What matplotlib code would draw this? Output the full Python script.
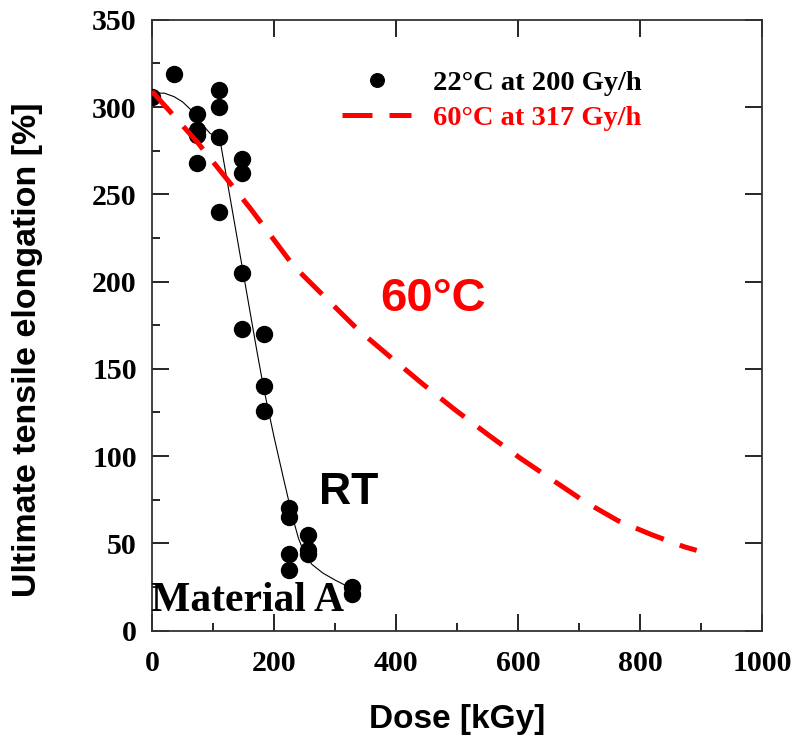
import matplotlib
matplotlib.use("Agg")
import matplotlib.pyplot as plt
from matplotlib.ticker import MultipleLocator

serif = ["Liberation Serif", "DejaVu Serif"]
sans = ["Liberation Sans", "DejaVu Sans"]

red = "#ff0000"

# 22 C at 200 Gy/h measured points
rt_dose = [0, 36, 74, 74, 74, 74, 110, 110, 110, 110, 147, 147, 147, 147,
           183, 183, 183, 225, 225, 225, 225, 255, 255, 255, 328, 328]
rt_elong = [306, 319, 296, 287, 284, 268, 310, 300, 283, 240, 270, 262, 205, 173,
            170, 140, 126, 70, 65, 44, 35, 55, 46, 44, 25, 21]

# thin fitted curve through RT data
fit_dose = [0, 20, 36, 50, 62, 74, 85, 95, 105, 112, 118, 130, 146, 160,
            172, 183, 200, 215, 225, 232, 240, 250, 262, 280, 300, 328]
fit_elong = [308, 308, 306, 303, 299, 294, 289, 285, 283, 280, 268, 244, 212, 184,
             160, 139, 111, 88, 73, 63, 53, 44, 38, 33, 29, 24]

# 60 C at 317 Gy/h curve
hot_dose = [0, 74, 161, 232, 281, 336, 390, 445, 497, 552, 603, 658, 709, 764, 819, 873, 893]
hot_elong = [309, 280, 242, 209, 192, 173, 157, 141, 126.5, 112, 99, 86, 74, 63, 55, 48, 46]

fig = plt.figure(figsize=(7.92, 7.35), dpi=100)
ax = fig.add_axes([0.192, 0.142, 0.770, 0.831])

ax.plot(fit_dose, fit_elong, color="black", lw=0.8, zorder=2)
ax.plot(rt_dose, rt_elong, "o", color="black", ms=11.5, zorder=3,
        label="22°C at 200 Gy/h")
ax.plot(hot_dose, hot_elong, color=red, lw=3.6, dashes=(6, 3.4), zorder=4,
        label="60°C at 317 Gy/h")

ax.set_xlim(0, 1000)
ax.set_ylim(0, 350)
ax.xaxis.set_major_locator(MultipleLocator(200))
ax.xaxis.set_minor_locator(MultipleLocator(100))
ax.yaxis.set_major_locator(MultipleLocator(50))
ax.yaxis.set_minor_locator(MultipleLocator(25))
ax.tick_params(which="major", direction="in", length=12, width=1.2,
               top=True, right=True)
ax.tick_params(which="minor", direction="in", length=6, width=1.2,
               top=False, right=False)
ax.tick_params(axis="x", which="major", pad=14)
ax.tick_params(axis="y", which="major", pad=11)
for s in ax.spines.values():
    s.set_linewidth(1.3)
    s.set_color("#333333")
for lab in ax.get_xticklabels() + ax.get_yticklabels():
    lab.set_family(serif)
    lab.set_fontweight("bold")
    lab.set_fontsize(21.5)

ax.set_xlabel("Dose [kGy]", family=sans, fontweight="bold", fontsize=24)
ax.xaxis.set_label_coords(0.5, -0.12)
ax.set_ylabel("Ultimate tensile elongation [%]", family=sans, fontweight="bold",
              fontsize=24.5)
ax.yaxis.set_label_coords(-0.179, 0.46)

leg = ax.legend(loc="upper left", bbox_to_anchor=(0.27, 0.959), frameon=False,
                prop={"family": serif, "weight": "bold", "size": 20.5},
                handlelength=2.4, handletextpad=0.77, labelspacing=0.3,
                markerscale=0.85)
leg.get_texts()[1].set_color(red)

ax.text(461, 190, "60°C", color=red, family=sans, fontweight="bold", fontsize=34,
        ha="center", va="center")
ax.text(322, 79, "RT", color="black", family=sans, fontweight="bold", fontsize=32,
        ha="center", va="center")
ax.text(157, 17, "Material A", color="black", family=serif, fontweight="bold",
        fontsize=30, ha="center", va="center")

fig.savefig("out.png", dpi=100)
